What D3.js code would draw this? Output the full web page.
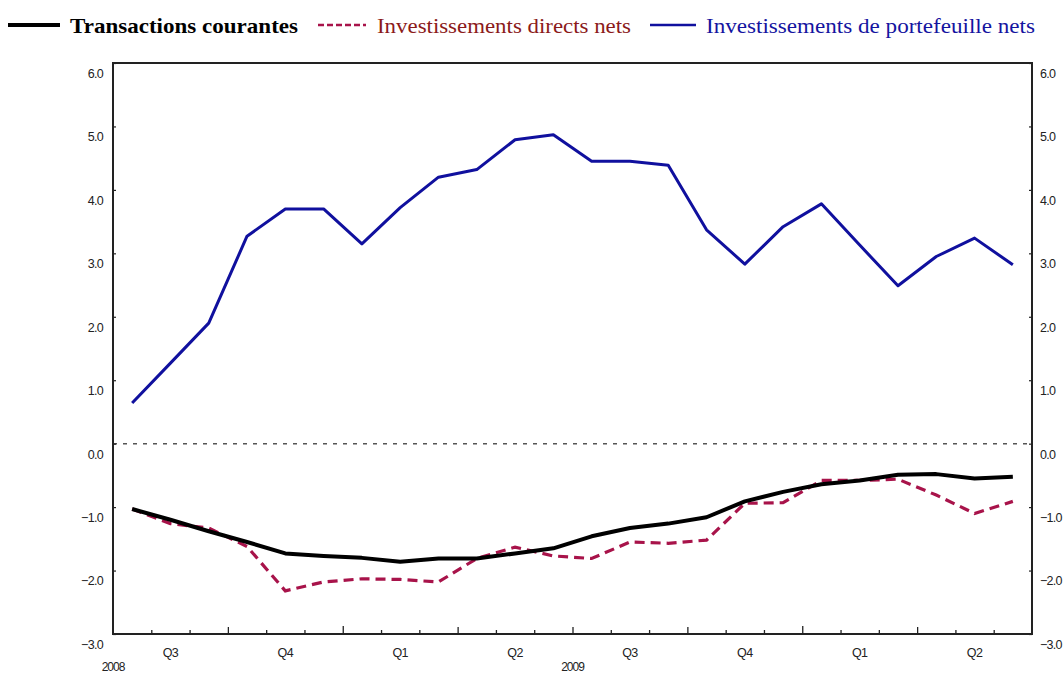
<!DOCTYPE html>
<html><head><meta charset="utf-8">
<script src="https://cdn.jsdelivr.net/npm/d3@7"></script>
<style>body{margin:0;background:#fff}svg{display:block}</style>
</head><body>
<svg id="c" width="1064" height="675"></svg>
<script>
const months = ["2008-07","2008-08","2008-09","2008-10","2008-11","2008-12","2009-01","2009-02","2009-03","2009-04","2009-05","2009-06","2009-07","2009-08","2009-09","2009-10","2009-11","2009-12","2010-01","2010-02","2010-03","2010-04","2010-05","2010-06"];
const transactionsCourantes = [-1.03,-1.20,-1.38,-1.55,-1.73,-1.77,-1.80,-1.86,-1.81,-1.81,-1.73,-1.65,-1.46,-1.33,-1.26,-1.16,-0.91,-0.76,-0.64,-0.58,-0.49,-0.48,-0.55,-0.52];
const investDirects = [-1.03,-1.26,-1.33,-1.62,-2.32,-2.18,-2.13,-2.14,-2.18,-1.81,-1.63,-1.77,-1.81,-1.55,-1.57,-1.52,-0.94,-0.93,-0.58,-0.58,-0.56,-0.81,-1.10,-0.91];
const investPortefeuille = [0.64,1.27,1.90,3.27,3.70,3.70,3.15,3.72,4.20,4.32,4.79,4.87,4.45,4.45,4.39,3.37,2.83,3.42,3.78,3.13,2.49,2.95,3.24,2.82];
const yTicks = [6,5,4,3,2,1,0,-1,-2,-3];
const quarterLabels = ["Q3","Q4","Q1","Q2","Q3","Q4","Q1","Q2"];
const yearLabels = [{label:"2008", at:0},{label:"2009", at:12}];
const seriesNames = ["Transactions courantes","Investissements directs nets","Investissements de portefeuille nets"];

const svg = d3.select("#c");
const L=113, R=1032, T=63, B=634;
const x = d3.scaleLinear().domain([0, months.length]).range([L, R]);
const y = d3.scaleLinear().domain([-3, 6]).range([B, T]);
const axisFont = "Liberation Sans, Arial, sans-serif";

// zero line
svg.append("line").attr("x1",L).attr("x2",R).attr("y1",y(0)).attr("y2",y(0))
  .attr("stroke","#555").attr("stroke-width",1.5).attr("stroke-dasharray","4,6");

// left axis
const gl = svg.append("g").attr("transform",`translate(${L},0)`)
  .call(d3.axisLeft(y).tickValues(yTicks).tickSize(-3).tickPadding(10).tickFormat(d3.format(".1f")));
// right axis
const gr = svg.append("g").attr("transform",`translate(${R},0)`)
  .call(d3.axisRight(y).tickValues(yTicks).tickSize(-3).tickPadding(8).tickFormat(d3.format(".1f")));
[gl,gr].forEach(g=>{
  g.select(".domain").remove();
  g.selectAll(".tick line").attr("stroke","#222").attr("stroke-width",1.2);
  g.selectAll(".tick text").attr("font-family",axisFont).attr("font-size",12.5)
    .attr("fill","#222").attr("dy","1.15em").style("letter-spacing","-0.7px");
});

// x axis (month ticks)
const monthTicks = d3.range(0, months.length+1);
const gx = svg.append("g").attr("transform",`translate(0,${B})`)
  .call(d3.axisBottom(x).tickValues(monthTicks).tickFormat(""));
gx.select(".domain").remove();
gx.selectAll(".tick line").attr("stroke","#222").attr("stroke-width",1.3)
  .attr("y2", d => (d===6||d===18) ? -8 : (d%3===0 ? -7 : -4));
gx.selectAll(".tick").filter(d=>d===0||d===months.length).remove();

// quarter labels
svg.append("g").selectAll("text").data(quarterLabels).join("text")
  .attr("x",(d,i)=>x(i*3+1.5)).attr("y",657).attr("text-anchor","middle")
  .attr("font-family",axisFont).attr("font-size",12.5).attr("fill","#222")
  .style("letter-spacing","-0.6px").text(d=>d);
svg.append("g").selectAll("text").data(yearLabels).join("text")
  .attr("x",d=>x(d.at)).attr("y",671).attr("text-anchor","middle")
  .attr("font-family",axisFont).attr("font-size",12).attr("fill","#222")
  .style("letter-spacing","-1px").text(d=>d.label);

// frame
svg.append("rect").attr("x",L).attr("y",T).attr("width",R-L).attr("height",B-T)
  .attr("fill","none").attr("stroke","#222").attr("stroke-width",2);

const line = d3.line().x((d,i)=>x(i+0.5)).y(d=>y(d));
svg.append("path").datum(investPortefeuille).attr("d",line).attr("fill","none")
  .attr("stroke","#10109e").attr("stroke-width",3).attr("stroke-linejoin","round");
svg.append("path").datum(investDirects).attr("d",line).attr("fill","none")
  .attr("stroke","#a8134a").attr("stroke-width",3.2).attr("stroke-dasharray","10,6");
svg.append("path").datum(transactionsCourantes).attr("d",line).attr("fill","none")
  .attr("stroke","#000").attr("stroke-width",4).attr("stroke-linejoin","round");

// legend
const legend = [
  {name:seriesNames[0], color:"#000", text:"#000", dash:null, w:4, x1:8, x2:60, tx:70, tw:228, bold:true},
  {name:seriesNames[1], color:"#a8134a", text:"#8b1a1a", dash:"6,3", w:2.5, x1:318, x2:366, tx:377, tw:254, bold:false},
  {name:seriesNames[2], color:"#10109e", text:"#1414a0", dash:null, w:2.5, x1:650, x2:696, tx:706, tw:329, bold:false}
];
const lg = svg.append("g");
legend.forEach(d=>{
  lg.append("line").attr("x1",d.x1).attr("x2",d.x2).attr("y1",25).attr("y2",25)
    .attr("stroke",d.color).attr("stroke-width",d.w).attr("stroke-dasharray",d.dash);
  lg.append("text").attr("x",d.tx).attr("y",33).attr("font-family","Liberation Serif, Times New Roman, serif")
    .attr("font-size",21).attr("font-weight",d.bold?"bold":"normal").attr("fill",d.text)
    .attr("textLength",d.tw).attr("lengthAdjust","spacingAndGlyphs").text(d.name);
});
</script>
</body></html>
